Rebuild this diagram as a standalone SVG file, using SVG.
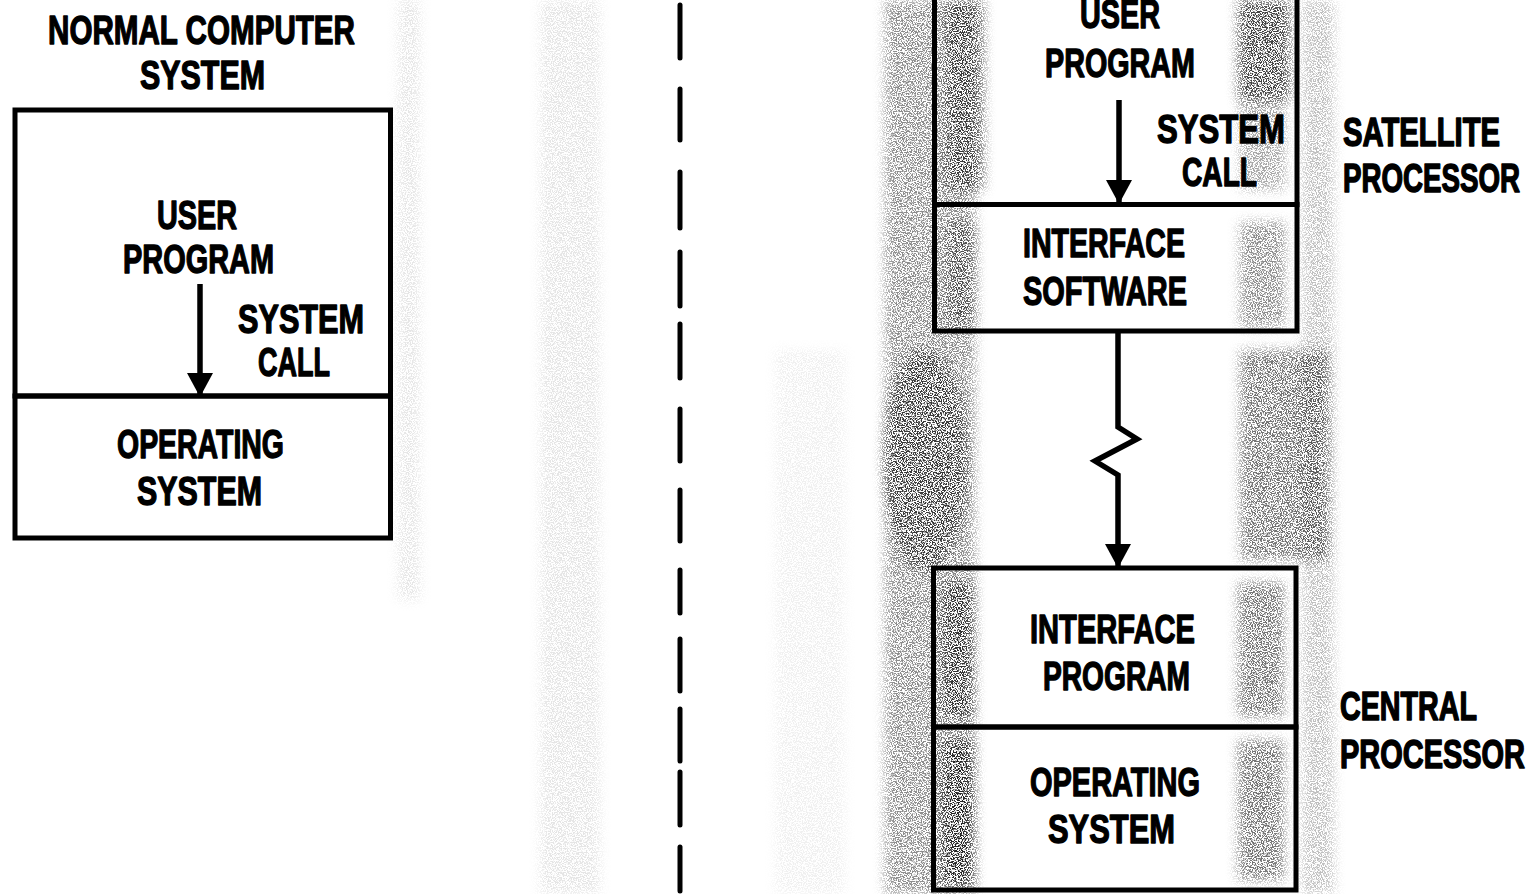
<svg xmlns="http://www.w3.org/2000/svg" width="1531" height="894" viewBox="0 0 1531 894">
  <style>
    .t { font-family: "Liberation Sans", Arial, sans-serif; font-weight: bold; font-size: 41px; fill: #000; stroke: #000; stroke-width: 1.4; stroke-linejoin: round; }
    .s { font-family: "Liberation Sans", Arial, sans-serif; font-weight: bold; font-size: 29px; fill: #000; stroke: #000; stroke-width: 1.1; stroke-linejoin: round; }
    .box { fill: none; stroke: #000; stroke-width: 5; }
    .wire { fill: none; stroke: #000; stroke-width: 5.5; stroke-linejoin: miter; }
    .dash { stroke: #000; stroke-width: 5; stroke-linecap: round; }
  </style>
  <defs>
    <marker id="head" markerUnits="userSpaceOnUse" viewBox="0 0 24 26" markerWidth="24" markerHeight="26" refX="23" refY="13" orient="auto">
      <path d="M0,0 L24,13 L0,26 Z" fill="#000"/>
    </marker>
    <filter id="grain" filterUnits="userSpaceOnUse" x="0" y="0" width="1531" height="894" color-interpolation-filters="sRGB">
      <feGaussianBlur in="SourceGraphic" stdDeviation="6" result="shape"/>
      <feTurbulence type="fractalNoise" baseFrequency="0.8" numOctaves="2" seed="7" result="noise"/>
      <feColorMatrix in="noise" type="matrix" values="0 0 0 0 0  0 0 0 0 0  0 0 0 0 0  9 0 0 0 -4.1" result="dots"/>
      <feComposite in="dots" in2="shape" operator="in"/>
    </filter>
  </defs>
  <rect width="1531" height="894" fill="#fff"/>

  <g id="scan-texture" filter="url(#grain)" fill="#000">
    <rect x="885" y="0" width="90" height="894" fill-opacity="0.45"/>
    <ellipse cx="925" cy="460" rx="42" ry="110" fill-opacity="0.6"/>
    <rect x="946" y="0" width="38" height="190" fill-opacity="0.6"/>
    <rect x="946" y="222" width="30" height="105" fill-opacity="0.45"/>
    <rect x="1238" y="0" width="52" height="100" fill-opacity="0.75"/>
    <rect x="1240" y="100" width="45" height="90" fill-opacity="0.35"/>
    <rect x="1240" y="222" width="45" height="105" fill-opacity="0.45"/>
    <rect x="1302" y="0" width="32" height="894" fill-opacity="0.25"/>
    <rect x="1240" y="350" width="88" height="210" fill-opacity="0.55"/>
    <rect x="942" y="582" width="32" height="135" fill-opacity="0.65"/>
    <rect x="942" y="740" width="32" height="145" fill-opacity="0.75"/>
    <rect x="1238" y="582" width="46" height="135" fill-opacity="0.55"/>
    <rect x="1238" y="740" width="46" height="140" fill-opacity="0.55"/>
    <rect x="540" y="0" width="60" height="894" fill-opacity="0.1"/>
    <rect x="398" y="0" width="22" height="600" fill-opacity="0.1"/>
    <rect x="775" y="350" width="70" height="544" fill-opacity="0.06"/>
  </g>

  <g id="divider-line">
    <line class="dash" x1="680" y1="5" x2="680" y2="58"/>
    <line class="dash" x1="680" y1="89" x2="680" y2="140"/>
    <line class="dash" x1="680" y1="172" x2="680" y2="228"/>
    <line class="dash" x1="680" y1="252" x2="680" y2="306"/>
    <line class="dash" x1="680" y1="324" x2="680" y2="378"/>
    <line class="dash" x1="680" y1="409" x2="680" y2="461"/>
    <line class="dash" x1="680" y1="490" x2="680" y2="541"/>
    <line class="dash" x1="680" y1="570" x2="680" y2="613"/>
    <line class="dash" x1="680" y1="639" x2="680" y2="691"/>
    <line class="dash" x1="680" y1="709" x2="680" y2="761"/>
    <line class="dash" x1="680" y1="772" x2="680" y2="825"/>
    <line class="dash" x1="680" y1="847" x2="680" y2="891"/>
  </g>

  <g id="normal-title">
    <text class="t" x="48" y="44" textLength="307" lengthAdjust="spacingAndGlyphs">NORMAL COMPUTER</text>
    <text class="t" x="140" y="89" textLength="125" lengthAdjust="spacingAndGlyphs">SYSTEM</text>
  </g>

  <g id="normal-user-program">
    <rect class="box" x="15" y="110" width="375.5" height="286"/>
    <text class="t" x="157" y="229" textLength="80" lengthAdjust="spacingAndGlyphs">USER</text>
    <text class="t" x="123" y="273" textLength="151" lengthAdjust="spacingAndGlyphs">PROGRAM</text>
  </g>

  <g id="normal-os">
    <rect class="box" x="15" y="396" width="375.5" height="142"/>
    <text class="t" x="117" y="458" textLength="167" lengthAdjust="spacingAndGlyphs">OPERATING</text>
    <text class="t" x="137" y="505" textLength="125" lengthAdjust="spacingAndGlyphs">SYSTEM</text>
  </g>

  <g id="sat-user-program">
    <rect class="box" x="934.5" y="-20" width="362.5" height="224.5"/>
    <text class="t" x="1080" y="28" textLength="80" lengthAdjust="spacingAndGlyphs">USER</text>
    <text class="t" x="1045" y="77" textLength="150" lengthAdjust="spacingAndGlyphs">PROGRAM</text>
  </g>

  <g id="sat-interface-software">
    <rect class="box" x="934.5" y="204.5" width="362.5" height="126.5"/>
    <text class="t" x="1023" y="257" textLength="162" lengthAdjust="spacingAndGlyphs">INTERFACE</text>
    <text class="t" x="1023" y="305" textLength="164" lengthAdjust="spacingAndGlyphs">SOFTWARE</text>
  </g>

  <g id="central-interface-program">
    <rect class="box" x="933.5" y="568" width="362.5" height="159"/>
    <text class="t" x="1030" y="643" textLength="165" lengthAdjust="spacingAndGlyphs">INTERFACE</text>
    <text class="t" x="1043" y="690" textLength="147" lengthAdjust="spacingAndGlyphs">PROGRAM</text>
  </g>

  <g id="central-os">
    <rect class="box" x="933.5" y="727" width="362.5" height="163"/>
    <text class="t" x="1030" y="796" textLength="170" lengthAdjust="spacingAndGlyphs">OPERATING</text>
    <text class="t" x="1048" y="843" textLength="127" lengthAdjust="spacingAndGlyphs">SYSTEM</text>
  </g>

  <g id="satellite-label" transform="scale(1,1.4138)">
    <text class="s" x="1343" y="103.27" textLength="157" lengthAdjust="spacingAndGlyphs">SATELLITE</text>
    <text class="s" x="1343" y="135.80" textLength="177" lengthAdjust="spacingAndGlyphs">PROCESSOR</text>
  </g>

  <g id="central-label" transform="scale(1,1.4138)">
    <text class="s" x="1340" y="509.27" textLength="137" lengthAdjust="spacingAndGlyphs">CENTRAL</text>
    <text class="s" x="1340" y="543.22" textLength="185" lengthAdjust="spacingAndGlyphs">PROCESSOR</text>
  </g>

  <g id="connectors">
    <path class="wire" d="M200,284 L200,396" marker-end="url(#head)"/>
    <text class="t" x="238" y="333" textLength="126" lengthAdjust="spacingAndGlyphs">SYSTEM</text>
    <text class="t" x="258" y="376" textLength="72" lengthAdjust="spacingAndGlyphs">CALL</text>
    <path class="wire" d="M1119,100 L1119,203" marker-end="url(#head)"/>
    <text class="t" x="1157" y="143" textLength="128" lengthAdjust="spacingAndGlyphs">SYSTEM</text>
    <text class="t" x="1182" y="186" textLength="75" lengthAdjust="spacingAndGlyphs">CALL</text>
    <path class="wire" d="M1118,331 L1118,427 L1137,439 L1095,461 L1118,475 L1118,567" marker-end="url(#head)"/>
  </g>
</svg>
